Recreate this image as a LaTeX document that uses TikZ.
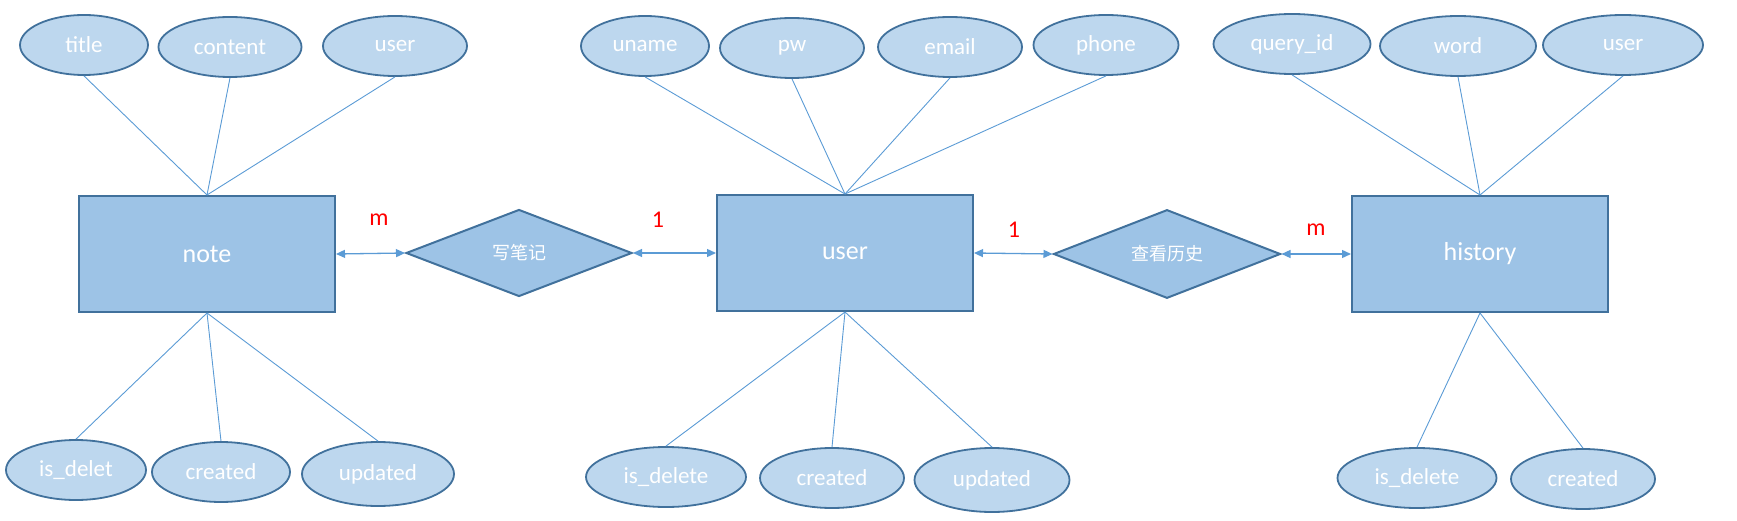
\documentclass[tikz,border=0pt]{standalone}
\usepackage{fontspec}
\setmainfont{Carlito}
\newfontfamily\cjk{Noto Sans CJK SC}
\usepackage{tikz}
\usetikzlibrary{shapes.geometric,arrows.meta}
\definecolor{ERLine}{HTML}{5B9BD5}
\definecolor{ERBorder}{HTML}{41719C}
\definecolor{EREntity}{HTML}{9DC3E6}
\definecolor{ERAttr}{HTML}{BDD7EE}
\definecolor{ERRed}{HTML}{FF0000}
\tikzset{
    % Entity box
    entitynode/.style={
        draw=ERBorder,
        fill=EREntity,
        line width=2pt,
        minimum width=256pt,
        minimum height=116pt,
        inner sep=0pt,
        text=white,
        font=\fontsize{26}{30}\selectfont
    },
    % Attribute ellipse
    attrnode/.style={
        ellipse,
        draw=ERBorder,
        fill=ERAttr,
        line width=1.8pt,
        minimum height=60pt,
        inner sep=0pt,
        text=white,
        font=\fontsize{23}{27}\selectfont
    },
    % Relationship diamond
    relnode/.style={
        diamond,
        draw=ERBorder,
        fill=EREntity,
        line width=2pt,
        minimum width=227pt,
        minimum height=87pt,
        inner sep=0pt,
        text=white,
        font=\cjk\fontsize{18}{22}\selectfont
    },
    % Attribute line
    attrline/.style={
        draw=ERLine,
        line width=0.9pt
    },
    % Relationship arrow
    relarrow/.style={
        {Triangle[length=9pt,width=8pt]}-{Triangle[length=9pt,width=8pt]},
        draw=ERLine,
        line width=1.3pt
    },
    % Cardinality label
    cardlabel/.style={
        text=ERRed,
        font=\fontsize{24}{28}\selectfont
    }
}
\begin{document}
\begin{tikzpicture}[x=1pt, y=-1pt]
    \useasboundingbox (0,0) rectangle (1737,521);

    % entities
    \node[entitynode] (note) at (207,254) {note};
    \node[entitynode] (user) at (845,253) {user};
    \node[entitynode] (hist) at (1480,254) {history};

    % relationships
    \node[relnode, minimum width=226pt] (wnote) at (519,253) {写笔记};
    \node[relnode, minimum height=85pt] (vhist) at (1167,254) {查看历史};

    % note attributes
    \node[attrnode, minimum width=128pt] (ntitle) at (84,45) {title};
    \node[attrnode, minimum width=143pt] (ncontent) at (230,47) {content};
    \node[attrnode, minimum width=144pt] (nuser) at (395,46) {user};
    \node[attrnode, minimum width=140pt] (ndel) at (76,470) {is\_delet};
    \node[attrnode, minimum width=138pt] (ncreated) at (221,472) {created};
    \node[attrnode, minimum width=152pt, minimum height=64pt] (nupdated) at (378,474) {updated};

    % user attributes
    \node[attrnode, minimum width=128pt] (uname) at (645,46) {uname};
    \node[attrnode, minimum width=144pt] (upw) at (792,48) {pw};
    \node[attrnode, minimum width=144pt] (uemail) at (950,47) {email};
    \node[attrnode, minimum width=145pt] (uphone) at (1106,45) {phone};
    \node[attrnode, minimum width=160pt] (udel) at (666,477) {is\_delete};
    \node[attrnode, minimum width=144pt] (ucreated) at (832,478) {created};
    \node[attrnode, minimum width=155pt, minimum height=64pt] (uupdated) at (992,480) {updated};

    % history attributes
    \node[attrnode, minimum width=157pt] (hqid) at (1292,44) {query\_id};
    \node[attrnode, minimum width=156pt] (hword) at (1458,46) {word};
    \node[attrnode, minimum width=160pt] (huser) at (1623,45) {user};
    \node[attrnode, minimum width=159pt] (hdel) at (1417,478) {is\_delete};
    \node[attrnode, minimum width=144pt] (hcreated) at (1583,479) {created};

    % attribute lines
    \foreach \a in {ntitle,ncontent,nuser}
        \draw[attrline] (\a.south) -- (note.north);
    \foreach \a in {ndel,ncreated,nupdated}
        \draw[attrline] (\a.north) -- (note.south);
    \foreach \a in {uname,upw,uemail,uphone}
        \draw[attrline] (\a.south) -- (user.north);
    \foreach \a in {udel,ucreated,uupdated}
        \draw[attrline] (\a.north) -- (user.south);
    \foreach \a in {hqid,hword,huser}
        \draw[attrline] (\a.south) -- (hist.north);
    \foreach \a in {hdel,hcreated}
        \draw[attrline] (\a.north) -- (hist.south);

    % relationship arrows
    \draw[relarrow] (note.east) -- (wnote.west);
    \draw[relarrow] (wnote.east) -- (user.west);
    \draw[relarrow] (user.east) -- (vhist.west);
    \draw[relarrow] (vhist.east) -- (hist.west);

    % cardinalities
    \node[cardlabel] (cm1) at (379,220) {m};
    \node[cardlabel] (c11) at (658,220) {1};
    \node[cardlabel] (c12) at (1014,230) {1};
    \node[cardlabel] (cm2) at (1316,230) {m};
\end{tikzpicture}
\end{document}
